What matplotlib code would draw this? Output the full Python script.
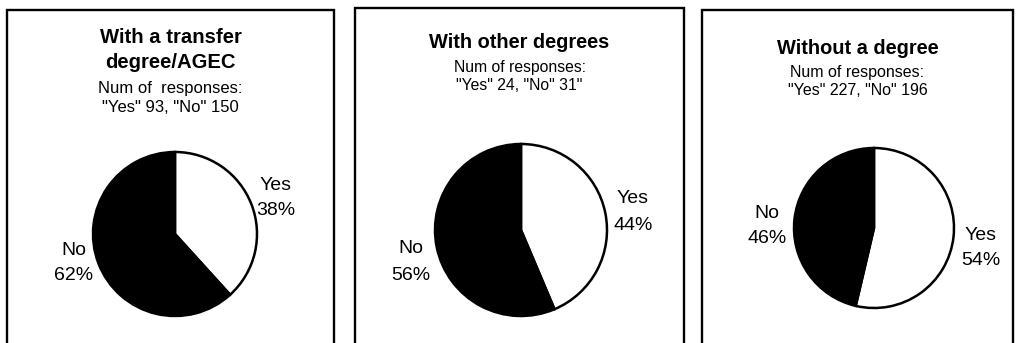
import matplotlib
matplotlib.use("Agg")
import matplotlib.pyplot as plt
from matplotlib.patches import Rectangle

plt.rcParams["font.family"] = ["Liberation Sans", "DejaVu Sans"]

# Survey groups and their answer counts
titles = ["With a transfer\ndegree/AGEC", "With other degrees", "Without a degree"]
yes_counts = [93, 24, 227]
no_counts = [150, 31, 196]
answer_labels = ["Yes", "No"]

W, H = 1017, 343
fig = plt.figure(figsize=(W / 100, H / 100), dpi=100)


def fx(x):
    return x / W


def fy(y):
    return 1 - y / H


# Panel frames (left, top, right) in pixels; the bottom runs off the figure
frames = [(7, 10, 334), (355, 8, 684), (702, 10, 1013)]
# Pie centre and radius in pixels
pies = [(175, 234, 82), (521, 230, 86), (874, 228, 80)]
title_sizes = [14.6, 14.4, 14.4]
sub_sizes = [12, 11.3, 11.5]
title_y = [[43, 68], [48], [54]]
sub_y = [[93, 112], [72, 90], [77, 95]]
# Label anchors: x centre, baseline of the name line, baseline of the percent line
yes_pos = [(276, 190, 215), (633, 203, 230), (981, 240, 265)]
no_pos = [(74, 255, 280), (411, 253, 280), (767, 218, 243)]

for i in range(3):
    x0, y0, x1 = frames[i]
    fig.patches.append(Rectangle((fx(x0), fy(H + 20)), fx(x1) - fx(x0), fy(y0) - fy(H + 20),
                                 transform=fig.transFigure, fill=False, edgecolor="black",
                                 linewidth=1.7))
    cx = (x0 + x1) / 2
    tlines = titles[i].split("\n")
    for line, yy in zip(tlines, title_y[i]):
        fig.text(fx(cx), fy(yy), line, ha="center", va="baseline",
                 fontsize=title_sizes[i], fontweight="bold")
    sub = ["Num of  responses:" if i == 0 else "Num of responses:",
           f'"Yes" {yes_counts[i]}, "No" {no_counts[i]}' + ('"' if i == 1 else "")]
    for line, yy in zip(sub, sub_y[i]):
        fig.text(fx(cx), fy(yy), line, ha="center", va="baseline", fontsize=sub_sizes[i])

    pcx, pcy, r = pies[i]
    ax = fig.add_axes([fx(pcx - r), fy(pcy + r), 2 * r / W, 2 * r / H])
    vals = [yes_counts[i], no_counts[i]]
    ax.pie(vals, colors=["white", "black"], startangle=90, counterclock=False,
           wedgeprops=dict(edgecolor="black", linewidth=1.8))
    ax.set_xlim(-1, 1)
    ax.set_ylim(-1, 1)
    ax.set_aspect("equal")
    ax.axis("off")

    total = sum(vals)
    pct_yes = round(100 * yes_counts[i] / total)
    pct_no = round(100 * no_counts[i] / total)
    for (lx, b1, b2), name, pct in [(yes_pos[i], answer_labels[0], pct_yes),
                                    (no_pos[i], answer_labels[1], pct_no)]:
        fig.text(fx(lx), fy(b1), name, ha="center", va="baseline", fontsize=14)
        fig.text(fx(lx), fy(b2), f"{pct}%", ha="center", va="baseline", fontsize=14)

fig.savefig("out.png", dpi=100)
